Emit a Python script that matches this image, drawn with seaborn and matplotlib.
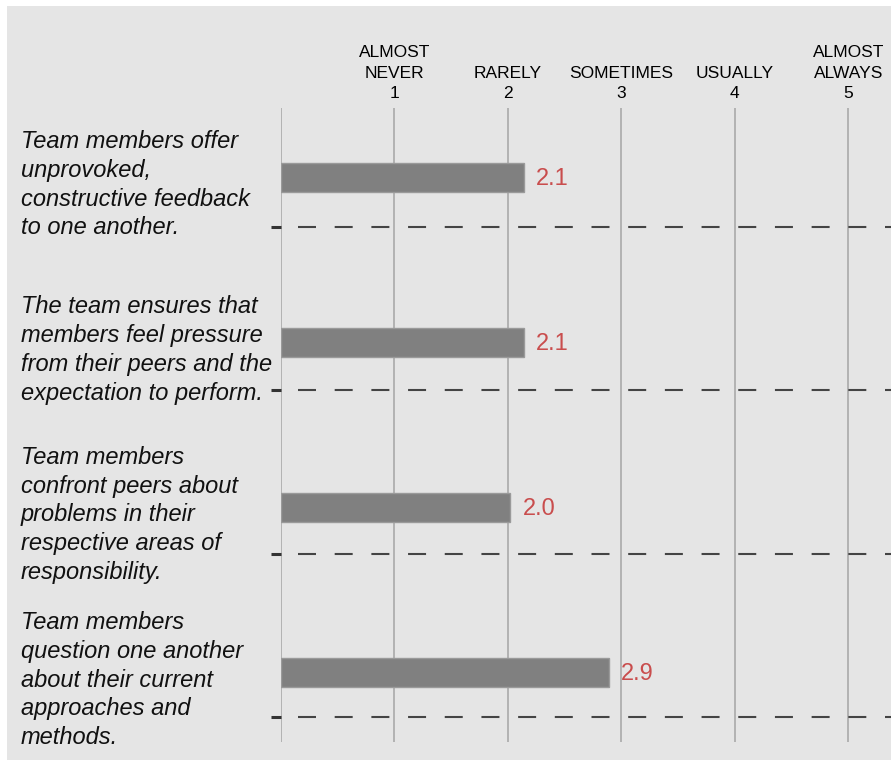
import numpy as np
import pandas as pd
import matplotlib
matplotlib.use('Agg')
import matplotlib.pyplot as plt
import matplotlib.transforms as mtransforms
from matplotlib.patches import Rectangle
import seaborn as sns

# Survey items, scores and the answer scale
items = [
    'Team members offer\nunprovoked,\nconstructive feedback\nto one another.',
    'The team ensures that\nmembers feel pressure\nfrom their peers and the\nexpectation to perform.',
    'Team members\nconfront peers about\nproblems in their\nrespective areas of\nresponsibility.',
    'Team members\nquestion one another\nabout their current\napproaches and\nmethods.',
]
scores = [2.14, 2.14, 2.02, 2.89]
scale_values = [0, 1, 2, 3, 4, 5]
scale_labels = ['', 'ALMOST\nNEVER\n1', 'RARELY\n2', 'SOMETIMES\n3', 'USUALLY\n4', 'ALMOST\nALWAYS\n5']
separators = [0.30, 1.29, 2.28, 3.27]

df = pd.DataFrame({'item': items, 'score': scores})

sns.set_style('white')
plt.rcParams['font.family'] = ['Liberation Sans', 'DejaVu Sans']

W, H = 891, 760
fig = plt.figure(figsize=(W / 100, H / 100), dpi=100, facecolor='white')
# grey panel behind everything
fig.patches.append(Rectangle((7 / W, 0), 1, (H - 6) / H, transform=fig.transFigure,
                             facecolor='#e5e5e5', edgecolor='none', zorder=-10))

ax = fig.add_axes([281 / W, 18 / H, 1 - 281 / W, (742 - 108) / H])
ax.set_facecolor('none')
ax.set_zorder(1)

sns.barplot(data=df, x='score', y='item', orient='h', width=0.172, color='#808080',
            saturation=1, edgecolor='#9a9a9a', linewidth=1, ax=ax, zorder=3)

ax.set_xlim(0, 5.377)
ax.set_ylim(3.42, -0.42)

# top scale labels
ax.set_xticks(scale_values)
ax.set_xticklabels(scale_labels, fontsize=12.5, linespacing=1.45)
ax.tick_params(axis='x', top=True, labeltop=True, bottom=False, labelbottom=False,
               length=0, pad=5, colors='black')
ax.xaxis.grid(True, color='#b2b2b2', linewidth=1.4)

# separator lines with ticks on the left
ax.set_yticks(separators)
ax.tick_params(axis='y', left=True, labelleft=False, length=7.2, width=2.2,
               color='#333333', direction='out')
ax.yaxis.grid(True, color='#444444', linewidth=1.5, linestyle=(9.45, (8.64, 8.97)))
ax.set_axisbelow(True)
ax.set_xlabel('')
ax.set_ylabel('')
sns.despine(ax=ax, left=True, bottom=True)

# value labels
for i, v in enumerate(scores):
    ax.annotate(f'{v:.1f}', xy=(v, i), xytext=(9, -1), textcoords='offset points',
                va='center', ha='left', fontsize=17, color='#c94d4d')

# question texts on the left
trans = mtransforms.blended_transform_factory(fig.transFigure, ax.transData)
for i, txt in enumerate(items):
    ax.text(21 / W, i + 0.045, txt, transform=trans, ha='left', va='center',
            fontsize=17, style='italic', linespacing=1.32, color='#111111')

fig.savefig('out.png', dpi=100, facecolor='white')
